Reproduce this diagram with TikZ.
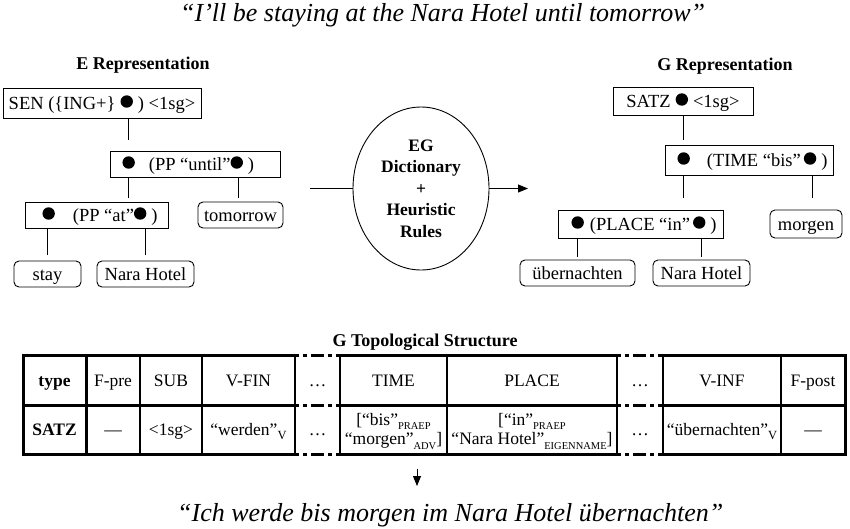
\documentclass[tikz,border=0pt]{standalone}
\usepackage{fontspec}
\setmainfont{Liberation Serif}
\usetikzlibrary{shapes.geometric,arrows.meta}
\newcommand\fN{\fontsize{18.5}{22}\selectfont}
\newcommand\fT{\fontsize{17.5}{19.5}\selectfont}
\newcommand\fQ{\fontsize{26}{30}\selectfont\itshape}
\newcommand\fH{\fontsize{18}{21}\selectfont\bfseries}
\newcommand\blob{\tikz[baseline=-7.5pt]\fill (0,0) circle (6.2pt);}
\newcommand\sbs[1]{\raisebox{-4.5pt}{\fontsize{10.5}{10.5}\selectfont #1}}
\newcommand\sbsv[1]{\raisebox{-4.5pt}{\fontsize{12.5}{12.5}\selectfont #1}}
\begin{document}
\begin{tikzpicture}[x=1pt,y=-1pt,
  dotbox/.style={draw,line width=0.9pt,anchor=west,inner ysep=0pt,text height=14pt,text depth=2pt,font=\fN},
  rbox/.style={draw,line width=0.9pt,rounded corners=5pt,inner sep=0pt,text height=14pt,text depth=2pt,font=\fN},
  sbox/.style={draw,line width=0.9pt,inner sep=0pt,text height=14pt,text depth=2pt,font=\fN},
  conn/.style={line width=0.9pt},
  ttl/.style={font=\fH,inner sep=0pt,anchor=base},
  qt/.style={font=\fQ,inner sep=0pt,anchor=base west},
  cell/.style={font=\fT,inner sep=0pt,anchor=base},
  celltwo/.style={font=\fT,inner sep=0pt,align=center,anchor=center},
  tk/.style={line width=3pt,line cap=rect},
  tn/.style={line width=1.5pt},
  dd/.style={line width=3pt,dash pattern=on 4pt off 4pt on 4pt off 4pt on 13pt off 4pt on 4pt off 4pt on 4pt},
  arrowtip/.style={-{Triangle[length=10pt,width=8pt]}}
]
\path[fill=white] (0,0) rectangle (850,528);
\useasboundingbox (0,0) rectangle (850,528);

% quotes and titles
\node[qt] (q1) at (180,21) {“I’ll be staying at the Nara Hotel until tomorrow”};
\node[ttl] (et) at (143,69) {E Representation};
\node[ttl] (gt) at (725,70) {G Representation};
\node[ttl] (tt) at (425,346) {G Topological Structure};

% E representation
\node[sbox,minimum width=198pt,minimum height=30pt] (sen) at (102,103) {SEN (\{ING+\}\hspace{5pt}\blob\hspace{5pt}) <1sg>};
\node[dotbox,inner xsep=12pt,minimum height=26pt] (until) at (110,164) {\makebox[146pt][l]{\blob\hspace{14pt}(PP “until”\blob\hspace{5pt})}};
\node[dotbox,inner xsep=17pt,minimum height=26pt] (at) at (25,215) {\makebox[109pt][l]{\blob\hspace{18pt}(PP “at”\blob\hspace{5pt})}};
\node[rbox,minimum width=85pt,minimum height=26pt] (tomorrow) at (240.5,215) {tomorrow};
\node[rbox,minimum width=67pt,minimum height=26pt] (stay) at (47.5,274) {stay};
\node[rbox,minimum width=97pt,minimum height=26pt] (naraE) at (145.5,274) {Nara Hotel};

\draw[conn,shorten >=11pt] (sen.south -| 128,0) -- (until.north -| 128,0);
\draw[conn,shorten >=4pt] (until.south -| 128,0) -- (at.north -| 128,0);
\draw[conn,shorten >=4pt] (until.south -| 238,0) -- (tomorrow.north -| 238,0);
\draw[conn,shorten >=6pt] (at.south -| 47,0) -- (stay.north -| 47,0);
\draw[conn,shorten >=6pt] (at.south -| 145,0) -- (naraE.north -| 145,0);

% dictionary
\node[ellipse,draw,line width=0.9pt,minimum width=136pt,minimum height=163pt,inner sep=0pt,align=center,font=\bfseries\fontsize{17.5}{21.5}\selectfont] (dict) at (421,188.5) {EG\\Dictionary\\+\\Heuristic\\Rules};
\coordinate (lin) at (310,188.5);
\coordinate (lout) at (528,188.5);
\draw[conn] (lin) -- (dict.west);
\draw[conn,arrowtip] (dict.east) -- (lout);

% G representation
\node[sbox,minimum width=140pt,minimum height=28pt] (satz) at (683,101) {SATZ\hspace{5pt}\blob\hspace{5pt}<1sg>};
\node[dotbox,inner xsep=12pt,minimum height=30pt] (time) at (665,160) {\makebox[144pt][l]{\blob\hspace{17pt}(TIME “bis”\hspace{3pt}\blob\hspace{5pt})}};
\node[dotbox,inner xsep=13pt,minimum height=28pt] (place) at (558,224) {\makebox[139pt][l]{\blob\hspace{6pt}(PLACE “in”\hspace{3pt}\blob\hspace{5pt})}};
\node[rbox,minimum width=72pt,minimum height=28pt] (morgen) at (806,224) {morgen};
\node[rbox,minimum width=115pt,minimum height=26pt] (uber) at (577.5,273) {übernachten};
\node[rbox,minimum width=97pt,minimum height=26pt] (naraG) at (701.5,273) {Nara Hotel};

\draw[conn,shorten >=5pt] (satz.south -| 683,0) -- (time.north -| 683,0);
\draw[conn,shorten >=12pt] (time.south -| 683,0) -- (place.north -| 683,0);
\draw[conn,shorten >=12pt] (time.south -| 812,0) -- (morgen.north -| 812,0);
\draw[conn,shorten >=3pt] (place.south -| 577,0) -- (uber.north -| 577,0);
\draw[conn,shorten >=3pt] (place.south -| 701,0) -- (naraG.north -| 701,0);

% table lines
\foreach \yy in {355,405,454}{
  \draw[tk] (23,\yy) -- (295,\yy);
  \draw[tk] (340,\yy) -- (617,\yy);
  \draw[tk] (663,\yy) -- (845,\yy);
  \draw[dd] (295,\yy) -- (340,\yy);
  \draw[dd] (617,\yy) -- (663,\yy);
}
\draw[tk] (23,355) -- (23,454);
\draw[tk] (845,355) -- (845,454);
\draw[tk] (86,355) -- (86,454);
\foreach \xx in {140,202,295,340,447,617,663,781}{
  \draw[tn] (\xx,355) -- (\xx,454);
}

% table text
\node[cell,font=\fT\bfseries] (h1) at (54.5,386) {type};
\node[cell] (h2) at (113,386) {F-pre};
\node[cell] (h3) at (171,386) {SUB};
\node[cell] (h4) at (248.5,386) {V-FIN};
\node[cell] (h5) at (317.5,386) {…};
\node[cell] (h6) at (393.5,386) {TIME};
\node[cell] (h7) at (532,386) {PLACE};
\node[cell] (h8) at (640,386) {…};
\node[cell] (h9) at (722,386) {V-INF};
\node[cell] (h10) at (813,386) {F-post};

\node[cell,font=\fT\bfseries] (d1) at (54.5,435) {SATZ};
\node[cell] (d2) at (113,435) {—};
\node[cell] (d3) at (171,435) {<1sg>};
\node[cell] (d4) at (248.5,435) {“werden”\sbsv{V}};
\node[cell] (d5) at (317.5,435) {…};
\node[celltwo] (d6) at (393.5,431) {[“bis”\sbs{PRAEP}\\“morgen”\sbs{ADV}]};
\node[celltwo] (d7) at (532,431) {[“in”\sbs{PRAEP}\\“Nara Hotel”\sbs{EIGENNAME}]};
\node[cell] (d8) at (640,435) {…};
\node[cell] (d9) at (722,435) {“übernachten”\sbsv{V}};
\node[cell] (d10) at (813,435) {—};

% bottom
\coordinate (ta) at (417,469);
\coordinate (tb) at (417,486);
\draw[conn,arrowtip] (ta) -- (tb);
\node[qt] (q2) at (177,521) {“Ich werde bis morgen im Nara Hotel übernachten”};
\end{tikzpicture}
\end{document}
